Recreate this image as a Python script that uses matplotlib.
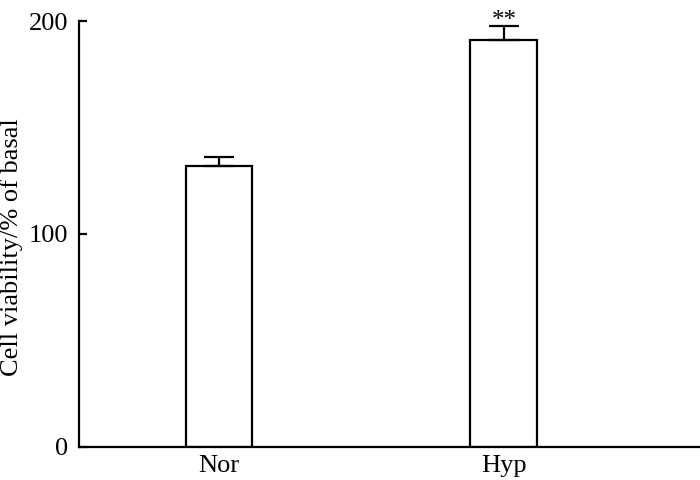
import matplotlib.pyplot as plt

groups = ['Nor', 'Hyp']
viability = [131.9, 191.0]
sem = [4.3, 6.7]
marks = ['', '**']

plt.rcParams['font.family'] = ['Liberation Serif', 'DejaVu Serif']
plt.rcParams['font.size'] = 19

dpi = 100
fig = plt.figure(figsize=(700 / dpi, 480 / dpi), dpi=dpi)
ax = fig.add_axes([0.113, 0.069, 0.887, 0.887])

xs = range(len(groups))
ax.bar(xs, viability, width=0.235, color='white', edgecolor='black', linewidth=1.6,
       yerr=[[0] * len(sem), sem], capsize=10.5,
       error_kw=dict(elinewidth=1.6, capthick=1.6, ecolor='black'))

for x, v, e, m in zip(xs, viability, sem, marks):
    if m:
        ax.text(x, v + e - 3, m, ha='center', va='bottom', fontsize=18)

ax.set_xlim(-0.491, 1.688)
ax.set_ylim(0, 200)
ax.set_yticks([0, 100, 200])
ax.set_xticks(list(xs))
ax.set_xticklabels(groups)
ax.tick_params(axis='y', direction='in', length=6, width=1.6, pad=8)
ax.tick_params(axis='x', length=0, pad=6)
ax.spines['top'].set_visible(False)
ax.spines['right'].set_visible(False)
ax.spines['left'].set_linewidth(1.6)
ax.spines['bottom'].set_linewidth(1.6)
ax.set_ylabel('Cell viability/% of basal')
ax.yaxis.set_label_coords(-0.09, 0.47)

fig.savefig('out.png', dpi=dpi)
